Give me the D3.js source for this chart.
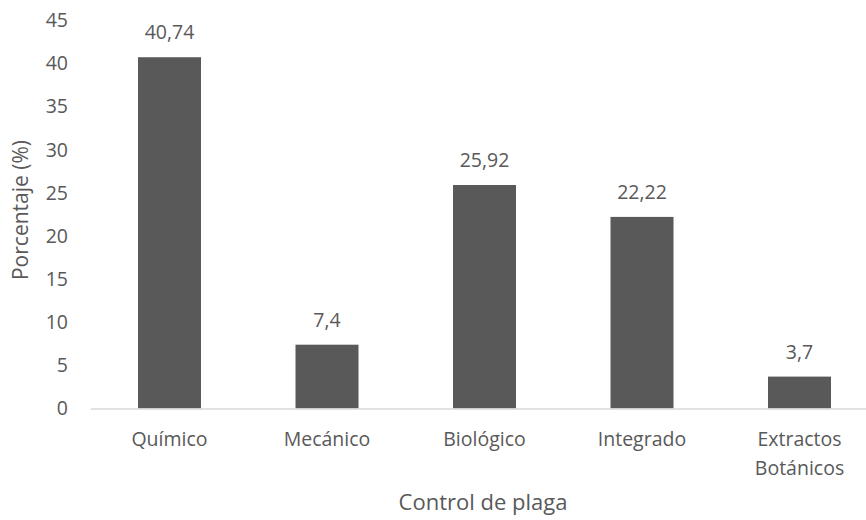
<!DOCTYPE html>
<html>
<head>
<meta charset="utf-8">
<script src="https://cdn.jsdelivr.net/npm/d3@7"></script>
<style>
  html, body { margin: 0; padding: 0; background: #ffffff; }
  svg { display: block; font-family: "Open Sans", "Noto Sans", sans-serif; }
</style>
</head>
<body>
<svg id="chart" width="866" height="520"></svg>
<script>
// Pest-control methods and their share (%)
const categories = ["Químico", "Mecánico", "Biológico", "Integrado", "Extractos Botánicos"];
const values = [40.74, 7.4, 25.92, 22.22, 3.7];
const valueLabels = ["40,74", "7,4", "25,92", "22,22", "3,7"];
const yTicks = [0, 5, 10, 15, 20, 25, 30, 35, 40, 45];
const xTitle = "Control de plaga";
const yTitle = "Porcentaje (%)";

const textColor = "#595959";
const barColor = "#595959";
const labelSize = 19.5;

const svg = d3.select("#chart");

const x = d3.scaleBand()
  .domain(categories)
  .range([90.75, 878.25])
  .paddingInner(0.6)
  .paddingOuter(0.3);

const y = d3.scaleLinear()
  .domain([0, 45])
  .range([408.5, 20.5]);

// Y axis: labels only, no line or ticks
const yAxis = svg.append("g")
  .attr("transform", "translate(68,0)")
  .call(d3.axisLeft(y).tickValues(yTicks).tickSize(0).tickPadding(0).tickFormat(d3.format("d")));
yAxis.select(".domain").remove();
yAxis.selectAll("text")
  .attr("fill", textColor)
  .attr("font-size", labelSize)
  .attr("font-family", "Open Sans, sans-serif");

// Bars
svg.append("g").selectAll("rect")
  .data(values)
  .join("rect")
  .attr("x", (d, i) => x(categories[i]))
  .attr("width", x.bandwidth())
  .attr("y", d => y(d))
  .attr("height", d => y(0) - y(d))
  .attr("fill", barColor);

// Baseline
svg.append("line")
  .attr("x1", x.range()[0])
  .attr("x2", x.range()[1])
  .attr("y1", y(0) + 0.5)
  .attr("y2", y(0) + 0.5)
  .attr("stroke", "#d9d9d9")
  .attr("stroke-width", 1.5);

// Value labels above bars
svg.append("g").selectAll("text")
  .data(values)
  .join("text")
  .attr("x", (d, i) => x(categories[i]) + x.bandwidth() / 2)
  .attr("y", d => y(d) - 18)
  .attr("text-anchor", "middle")
  .attr("fill", textColor)
  .attr("font-size", labelSize)
  .text((d, i) => valueLabels[i]);

// Category labels (wrapped on spaces for long names)
const xLab = svg.append("g");
categories.forEach(c => {
  const words = c.split(" ");
  const t = xLab.append("text")
    .attr("x", x(c) + x.bandwidth() / 2)
    .attr("y", 446)
    .attr("text-anchor", "middle")
    .attr("fill", textColor)
    .attr("font-size", labelSize);
  words.forEach((w, k) => {
    t.append("tspan")
      .attr("x", x(c) + x.bandwidth() / 2)
      .attr("dy", k === 0 ? 0 : 28.5)
      .text(w);
  });
});

// Axis titles
svg.append("text")
  .attr("x", 483)
  .attr("y", 510)
  .attr("text-anchor", "middle")
  .attr("fill", textColor)
  .attr("font-size", 22)
  .text(xTitle);

svg.append("text")
  .attr("transform", "translate(28,210) rotate(-90)")
  .attr("text-anchor", "middle")
  .attr("fill", textColor)
  .attr("font-size", 21)
  .text(yTitle);
</script>
</body>
</html>
